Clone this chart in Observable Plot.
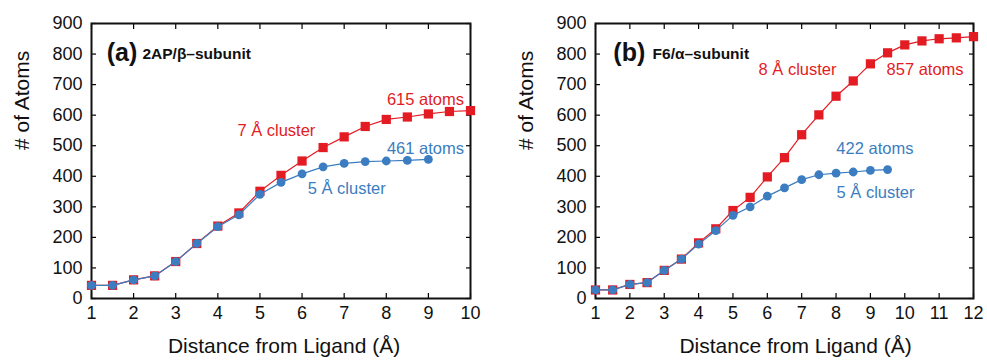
<!DOCTYPE html>
<html>
<head>
<meta charset="utf-8">
<script src="https://cdn.jsdelivr.net/npm/d3@7"></script>
<script src="https://cdn.jsdelivr.net/npm/@observablehq/plot@0.6"></script>
<style>
  html, body { margin: 0; padding: 0; background: #fff; }
  #wrap { display: flex; width: 987px; height: 362px; }
  #wrap > div { flex: none; }
</style>
</head>
<body>
<div id="wrap"><div id="pa"></div><div id="pb"></div></div>
<script>
// ---- Data ----
const xA_red = [1,1.5,2,2.5,3,3.5,4,4.5,5,5.5,6,6.5,7,7.5,8,8.5,9,9.5,10];
const yA_red = [43,43,61,74,121,180,237,280,351,403,450,494,529,563,586,594,604,612,615];
const xA_blue = [1,1.5,2,2.5,3,3.5,4,4.5,5,5.5,6,6.5,7,7.5,8,8.5,9];
const yA_blue = [43,43,61,74,121,180,235,274,341,380,408,431,442,448,450,452,455];

const xB_red = [1,1.5,2,2.5,3,3.5,4,4.5,5,5.5,6,6.5,7,7.5,8,8.5,9,9.5,10,10.5,11,11.5,12];
const yB_red = [28,28,46,52,92,129,182,228,288,331,398,461,536,601,662,712,768,804,830,843,850,853,857];
const xB_blue = [1,1.5,2,2.5,3,3.5,4,4.5,5,5.5,6,6.5,7,7.5,8,8.5,9,9.5];
const yB_blue = [28,28,46,52,92,129,178,222,272,300,335,362,389,405,410,414,419,422];

const yTicks = [0,100,200,300,400,500,600,700,800,900];
const xTicksA = [1,2,3,4,5,6,7,8,9,10];
const xTicksB = [1,2,3,4,5,6,7,8,9,10,11,12];

const xTitle = "Distance from Ligand (Å)";
const yTitle = "# of Atoms";

const RED = "#e31b23";
const BLUE = "#3b7dc0";
const FONT = "'Liberation Sans', Arial, Helvetica, sans-serif";

const zip = (xs, ys) => xs.map((x, i) => ({x, y: ys[i]}));

function panel({width, marginLeft, marginRight, xDomain, xTicks, red, blue, tag, sub, labels, xTitleDx}) {
  return Plot.plot({
    width, height: 362,
    marginLeft, marginRight, marginTop: 23, marginBottom: 64,
    style: {fontFamily: FONT, background: "white", overflow: "visible"},
    x: {domain: xDomain},
    y: {domain: [0, 900]},
    marks: [
      // tick labels
      Plot.axisX({ticks: xTicks, tickSize: 0, tickPadding: 8, fontSize: 18, label: null, color: "#111"}),
      Plot.axisY({ticks: yTicks, tickSize: 0, tickPadding: 9, fontSize: 18, label: null, color: "#111"}),
      // inward ticks on all sides
      Plot.axisX({ticks: xTicks, anchor: "bottom", tickSize: -5, tickFormat: () => "", label: null, strokeWidth: 1.2}),
      Plot.axisX({ticks: xTicks, anchor: "top", tickSize: -5, tickFormat: () => "", label: null, strokeWidth: 1.2}),
      Plot.axisY({ticks: yTicks, anchor: "left", tickSize: -5, tickFormat: () => "", label: null, strokeWidth: 1.2}),
      Plot.axisY({ticks: yTicks, anchor: "right", tickSize: -5, tickFormat: () => "", label: null, strokeWidth: 1.2}),
      Plot.frame({stroke: "#111", strokeWidth: 2}),
      // axis titles
      Plot.text([xTitle], {frameAnchor: "bottom", dy: 54, dx: xTitleDx, fontSize: 21, fill: "#111"}),
      Plot.text([yTitle], {frameAnchor: "left", dx: -69, dy: -11, rotate: -90, fontSize: 21, fill: "#111"}),
      // series
      Plot.line(red, {x: "x", y: "y", stroke: RED, strokeWidth: 1.2}),
      Plot.dot(red, {x: "x", y: "y", symbol: "square", r: 5.2, fill: RED, stroke: "none"}),
      Plot.line(blue, {x: "x", y: "y", stroke: BLUE, strokeWidth: 1.2}),
      Plot.dot(blue, {x: "x", y: "y", r: 4.4, fill: BLUE, stroke: "none"}),
      // panel tag
      Plot.text([tag.text], {x: tag.x, y: tag.y, textAnchor: "start", fontSize: 25, fontWeight: "bold", fill: "#111"}),
      Plot.text([sub.text], {x: sub.x, y: sub.y, textAnchor: "start", fontSize: 15.5, fontWeight: "bold", fill: "#111"}),
      // annotations
      ...labels.map(l => Plot.text([l.text], {x: l.x, y: l.y, textAnchor: "middle", fontSize: 16.5, fill: l.color}))
    ]
  });
}

document.getElementById("pa").appendChild(panel({
  width: 490, marginLeft: 91, marginRight: 20,
  xDomain: [1, 10], xTicks: xTicksA,
  red: zip(xA_red, yA_red), blue: zip(xA_blue, yA_blue),
  tag: {text: "(a)", x: 1.36, y: 802},
  sub: {text: "2AP/β–subunit", x: 2.21, y: 800},
  xTitleDx: 3,
  labels: [
    {text: "615 atoms", x: 8.93, y: 651, color: RED},
    {text: "7 Å cluster", x: 5.39, y: 550, color: RED},
    {text: "461 atoms", x: 8.93, y: 491, color: BLUE},
    {text: "5 Å cluster", x: 7.06, y: 360, color: BLUE}
  ]
}));

document.getElementById("pb").appendChild(panel({
  width: 497, marginLeft: 105, marginRight: 14,
  xDomain: [1, 12], xTicks: xTicksB,
  red: zip(xB_red, yB_red), blue: zip(xB_blue, yB_blue),
  tag: {text: "(b)", x: 1.52, y: 802},
  sub: {text: "F6/α–subunit", x: 2.66, y: 800},
  xTitleDx: 11,
  labels: [
    {text: "8 Å cluster", x: 6.88, y: 749, color: RED},
    {text: "857 atoms", x: 10.59, y: 749, color: RED},
    {text: "422 atoms", x: 9.13, y: 491, color: BLUE},
    {text: "5 Å cluster", x: 9.15, y: 347, color: BLUE}
  ]
}));
</script>
</body>
</html>
